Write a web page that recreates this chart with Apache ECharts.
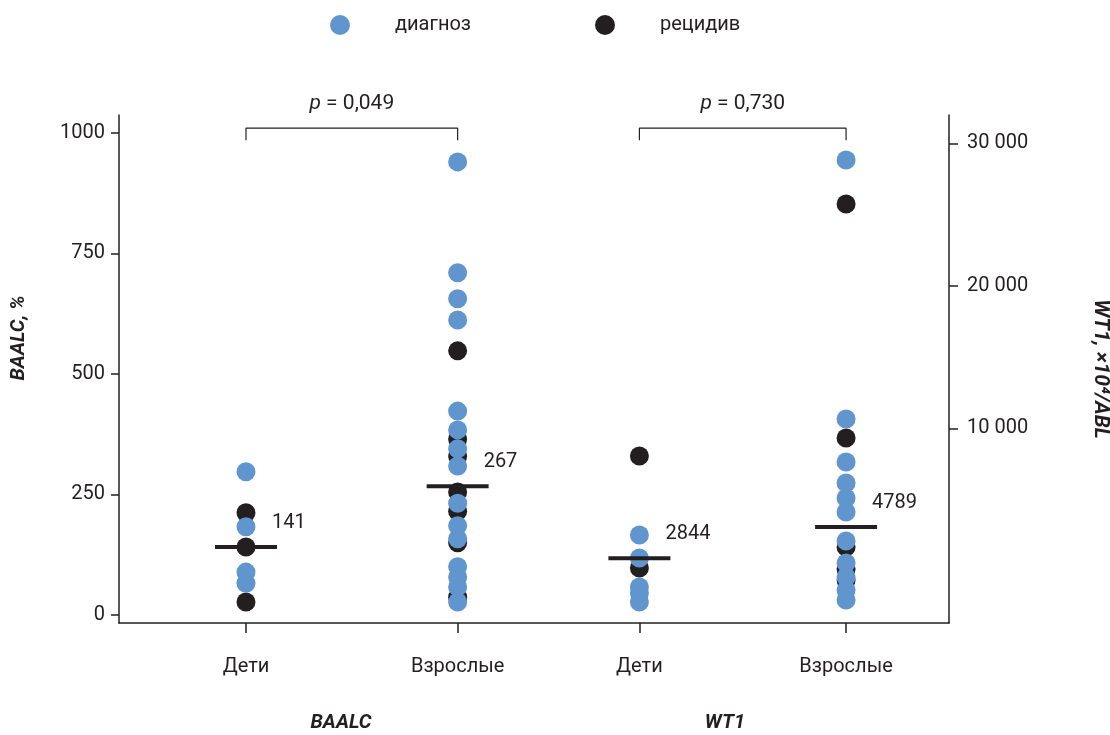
<!DOCTYPE html>
<html>
<head>
<meta charset="utf-8">
<script src="https://cdn.jsdelivr.net/npm/echarts@6/dist/echarts.min.js"></script>
<style>
  html, body { margin: 0; padding: 0; background: #fff; }
  #chart { width: 1110px; height: 735px; }
</style>
</head>
<body>
<div id="chart"></div>
<script>
// категории и их положение на оси x
const categories = ['Дети', 'Взрослые', 'Дети', 'Взрослые']
const catPos = [1.53, 4.08, 6.27, 8.76]
const groups = ['BAALC', 'WT1']

// BAALC, %
const baalcKidsDx = [297, 183, 89, 66]
const baalcKidsRel = [212, 141, 27]
const baalcAdultDx = [940, 710, 656, 612, 423, 384, 345, 309, 232, 185, 158, 100, 79, 58, 27]
const baalcAdultRel = [548, 365, 330, 255, 215, 150, 37]

// WT1, ×10⁴/ABL
const wt1KidsDx = [4286, 2857, 1056, 683, 124]
const wt1KidsRel = [9193, 2236]
const wt1AdultDx = [27578, 11491, 8820, 7515, 6584, 5714, 3913, 2547, 1677, 870, 248]
const wt1AdultRel = [24845, 10311, 3540, 2174, 1491]

// медианы
const baalcMedians = [141, 267]
const wt1Medians = [2844, 4789]
const pValues = ['0,049', '0,730']

// деления осей
const leftTicks = [0, 250, 500, 750, 1000]
const rightTicks = [10000, 20000, 30000]

const BLUE = '#6096cd'
const DARK = '#231f20'
const FONT = 'Roboto'

const pts = (x, arr) => arr.map(v => [x, v])
const thousands = v => String(v).replace(/\B(?=(\d{3})+(?!\d))/g, ' ')

const bracketTop = 1010
const bracketEnd = 985

const chart = echarts.init(document.getElementById('chart'))

const medianLabel = {
  show: true, position: 'right', distance: -5, offset: [0, -24],
  fontSize: 20, color: DARK, opacity: 1, formatter: p => String(p.value[1])
}

const option = {
  backgroundColor: '#fff',
  animation: false,
  textStyle: { fontFamily: FONT, color: DARK },
  legend: [
    {
      data: ['диагноз'], left: 325, top: 10, icon: 'circle',
      itemWidth: 20, itemHeight: 20,
      textStyle: { fontSize: 20, color: DARK, padding: [0, 0, 0, 40] }
    },
    {
      data: ['рецидив'], left: 590, top: 10, icon: 'circle',
      itemWidth: 20, itemHeight: 20,
      textStyle: { fontSize: 20, color: DARK, padding: [0, 0, 0, 40] }
    }
  ],
  grid: { left: 119, right: 161, top: 115, bottom: 112, containLabel: false, outerBoundsMode: 'none' },
  xAxis: {
    type: 'value', min: 0, max: 10,
    splitLine: { show: false },
    axisLine: { show: true, onZero: false, lineStyle: { color: DARK, width: 1.5 } },
    axisTick: { show: true, customValues: catPos, length: 10, lineStyle: { color: DARK, width: 1.5 } },
    axisLabel: {
      customValues: catPos, margin: 34, fontSize: 20, color: DARK,
      formatter: v => {
        let best = 0
        catPos.forEach((p, i) => { if (Math.abs(p - v) < Math.abs(catPos[best] - v)) best = i })
        return categories[best]
      }
    }
  },
  yAxis: [
    {
      type: 'value', position: 'left', min: -16.6, max: 1037.3,
      name: 'BAALC, %', nameLocation: 'middle', nameGap: 90,
      nameTextStyle: { fontSize: 20, fontWeight: 'bold', fontStyle: 'italic', color: DARK, padding: [0, 0, 0, 62] },
      splitLine: { show: false },
      axisLine: { show: true, onZero: false, lineStyle: { color: DARK, width: 1.5 } },
      axisTick: { show: true, customValues: leftTicks, length: 8, lineStyle: { color: DARK, width: 1.5 } },
      axisLabel: { customValues: leftTicks, margin: 14, fontSize: 20, color: DARK, formatter: v => String(v) }
    },
    {
      type: 'value', position: 'right', min: -3663, max: 31986,
      name: 'WT1, ×10⁴/ABL', nameLocation: 'middle', nameGap: 141, nameRotate: -90,
      nameTextStyle: { fontSize: 21, fontWeight: 'bold', fontStyle: 'italic', color: DARK },
      splitLine: { show: false },
      axisLine: { show: true, onZero: false, lineStyle: { color: DARK, width: 1.5 } },
      axisTick: { show: true, customValues: rightTicks, length: 9, lineStyle: { color: DARK, width: 1.5 } },
      axisLabel: { customValues: rightTicks, margin: 18, fontSize: 20, color: DARK, formatter: thousands }
    },
    {
      // шкала точек WT1
      type: 'value', position: 'right', min: -1180, max: 30373, show: false,
      splitLine: { show: false }
    }
  ],
  series: [
    {
      name: 'рецидив', type: 'scatter', yAxisIndex: 0, symbolSize: 19, z: 2,
      itemStyle: { color: DARK, opacity: 1 },
      data: pts(catPos[0], baalcKidsRel).concat(pts(catPos[1], baalcAdultRel))
    },
    {
      name: 'рецидив', type: 'scatter', yAxisIndex: 2, symbolSize: 19, z: 2,
      itemStyle: { color: DARK, opacity: 1 },
      data: pts(catPos[2], wt1KidsRel).concat(pts(catPos[3], wt1AdultRel))
    },
    {
      name: 'диагноз', type: 'scatter', yAxisIndex: 0, symbolSize: 19, z: 3,
      itemStyle: { color: BLUE, opacity: 1 },
      data: pts(catPos[0], baalcKidsDx).concat(pts(catPos[1], baalcAdultDx))
    },
    {
      name: 'диагноз', type: 'scatter', yAxisIndex: 2, symbolSize: 19, z: 3,
      itemStyle: { color: BLUE, opacity: 1 },
      data: pts(catPos[2], wt1KidsDx).concat(pts(catPos[3], wt1AdultDx))
    },
    // медианы
    {
      type: 'scatter', yAxisIndex: 0, symbol: 'rect', symbolSize: [62, 4], z: 4,
      itemStyle: { color: DARK, opacity: 1 },
      label: medianLabel,
      data: baalcMedians.map((v, i) => [catPos[i], v])
    },
    {
      type: 'scatter', yAxisIndex: 2, symbol: 'rect', symbolSize: [62, 4], z: 4,
      itemStyle: { color: DARK, opacity: 1 },
      label: medianLabel,
      data: wt1Medians.map((v, i) => [catPos[i + 2], v])
    },
    // скобки p
    ...[0, 1].map(g => ({
      type: 'line', yAxisIndex: 0, symbol: 'none', silent: true,
      lineStyle: { color: DARK, width: 1.2 },
      data: [
        [catPos[g * 2], bracketEnd], [catPos[g * 2], bracketTop],
        [catPos[g * 2 + 1], bracketTop], [catPos[g * 2 + 1], bracketEnd]
      ]
    })),
    {
      type: 'scatter', yAxisIndex: 0, symbolSize: 0, silent: true,
      itemStyle: { opacity: 1 },
      label: {
        show: true, position: 'top', distance: 14, fontSize: 21, color: DARK,
        formatter: p => '{i|p} = ' + pValues[p.dataIndex],
        rich: { i: { fontStyle: 'italic', fontSize: 21, color: DARK } }
      },
      data: [0, 1].map(g => [(catPos[g * 2] + catPos[g * 2 + 1]) / 2, bracketTop])
    }
  ],
  graphic: [
    {
      type: 'text', x: 341, y: 723,
      style: { text: groups[0], fill: DARK, font: 'italic bold 20px Roboto', align: 'center', verticalAlign: 'middle' }
    },
    {
      type: 'text', x: 725, y: 723,
      style: { text: groups[1], fill: DARK, font: 'italic bold 20px Roboto', align: 'center', verticalAlign: 'middle' }
    }
  ]
}

chart.setOption(option)
</script>
</body>
</html>
